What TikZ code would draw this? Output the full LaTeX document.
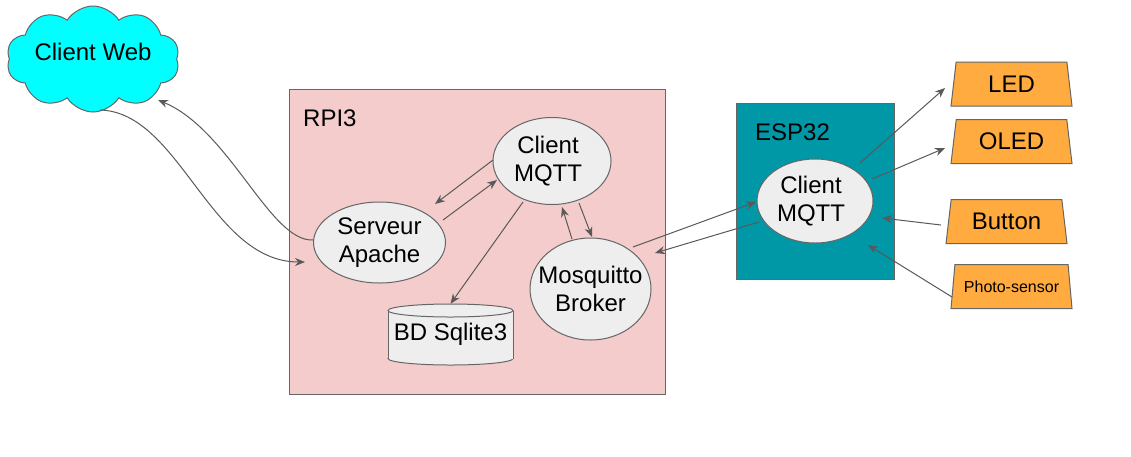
\documentclass[tikz,border=0pt]{standalone}
\usepackage{fontspec}
\setmainfont{Liberation Sans}
\usetikzlibrary{shapes.geometric,shapes.symbols,arrows.meta,calc}
\definecolor{pinkbg}{HTML}{F4CCCC}
\definecolor{tealc}{HTML}{0097A7}
\definecolor{orangec}{HTML}{FFAB40}
\definecolor{cyanc}{HTML}{00FFFF}
\definecolor{nodegray}{HTML}{EEEEEE}
\definecolor{bordergray}{HTML}{666666}
\definecolor{arrowgray}{HTML}{595959}
\begin{document}
\begin{tikzpicture}[x=1pt,y=-1pt,
  box/.style={draw=bordergray, line width=1pt, inner sep=0pt, anchor=north west},
  ellip/.style={ellipse, draw=bordergray, fill=nodegray, line width=1pt, inner sep=0pt},
  lbl/.style={align=center, font=\fontsize{24}{28}\selectfont, inner sep=0pt},
  title/.style={font=\fontsize{24}{28}\selectfont, inner sep=0pt},
  trap/.style={trapezium, trapezium left angle=76, trapezium right angle=76,
    trapezium stretches body, draw=bordergray, fill=orangec, line width=1pt,
    minimum width=121pt, minimum height=44pt, inner sep=2pt,
    font=\fontsize{24}{28}\selectfont},
  conn/.style={draw=arrowgray, line width=1pt, -{Stealth[length=10pt,width=8pt]}}
]
\useasboundingbox (0,0) rectangle (1131,456);

% containers
\node[box, fill=pinkbg, minimum width=376pt, minimum height=305pt] (rpi) at (289,89) {};
\node[title, anchor=west] (rpilbl) at (303,118) {RPI3};
\node[box, fill=tealc, minimum width=158pt, minimum height=176pt] (esp) at (736,103) {};
\node[title] (esplbl) at (792.5,132) {ESP32};

% cloud
\node[cloud, cloud puffs=10, cloud puff arc=115, aspect=1.7, draw=bordergray,
  fill=cyanc, line width=1pt, minimum width=173pt, minimum height=106pt, inner sep=0pt,
  label={[lbl, yshift=7pt]center:Client Web}] (web) at (93,59) {};

% ellipses
\node[ellip, minimum width=118pt, minimum height=87pt,
  label={[lbl, xshift=-4pt]center:Client\\MQTT}] (cmq) at (552,161) {};
\node[ellip, minimum width=132pt, minimum height=81pt,
  label={[lbl]center:Serveur\\Apache}] (apa) at (379.5,242.5) {};
\node[ellip, minimum width=121pt, minimum height=102pt,
  label={[lbl]center:Mosquitto\\Broker}] (mos) at (590.5,289) {};
\node[ellip, minimum width=116pt, minimum height=84pt,
  label={[lbl, xshift=-4pt]center:Client\\MQTT}] (ecm) at (815,201) {};

% database cylinder
\draw[draw=bordergray, fill=nodegray, line width=1pt] (450.5,358.5) ellipse (62.5 and 6.5);
\fill[nodegray] (388,310.5) rectangle (513,358.5);
\draw[draw=bordergray, line width=1pt] (388,310.5) -- (388,358.5) (513,310.5) -- (513,358.5);
\draw[draw=bordergray, fill=nodegray, line width=1pt] (450.5,310.5) ellipse (62.5 and 6.5);
\node[lbl, minimum width=125pt, minimum height=61pt] (db) at (450.5,334.5) {BD Sqlite3};

% peripherals
\node[trap] (led) at (1011.5,84) {LED};
\node[trap] (oled) at (1011.5,141.5) {OLED};
\node[trap] (btn) at (1006.5,221.5) {Button};
\node[trap, font=\fontsize{16}{19}\selectfont] (ph) at (1011.5,286.5) {Photo-sensor};

% connectors
\draw[conn] ($(web)+(7,51)$) .. controls ($(web)+(87,53)$) and ($(apa)+(-169.5,19.5)$) .. ($(apa)+(-74.5,19.5)$);
\draw[conn] ($(apa)+(-66.5,-2.5)$) .. controls ($(apa)+(-109.5,-0.5)$) and ($(web)+(137,71)$) .. ($(web)+(65,41)$);
\draw[conn] ($(cmq)+(-59,-1)$) -- ($(apa)+(55.5,-38.5)$);
\draw[conn] ($(apa)+(63.5,-22.5)$) -- ($(cmq)+(-55,19)$);
\draw[conn] ($(cmq)+(-29,41)$) -- (db.north);
\draw[conn] ($(mos)+(-18.5,-50)$) -- ($(cmq)+(10,46)$);
\draw[conn] ($(cmq)+(27,42)$) -- ($(mos)+(1.5,-52)$);
\draw[conn] ($(mos)+(42.5,-42)$) -- ($(ecm)+(-59,1)$);
\draw[conn] ($(ecm)+(-56,21)$) -- ($(mos)+(64.5,-36)$);
\draw[conn] ($(ecm)+(45,-38)$) -- ($(led)+(-66.5,4)$);
\draw[conn] ($(ecm)+(57,-22)$) -- ($(oled)+(-66.5,6.5)$);
\draw[conn] ($(btn)+(-65.5,3.5)$) -- ($(ecm)+(67,17)$);
\draw[conn] ($(ph)+(-59.5,10.5)$) -- ($(ecm)+(53,44)$);
\end{tikzpicture}
\end{document}
